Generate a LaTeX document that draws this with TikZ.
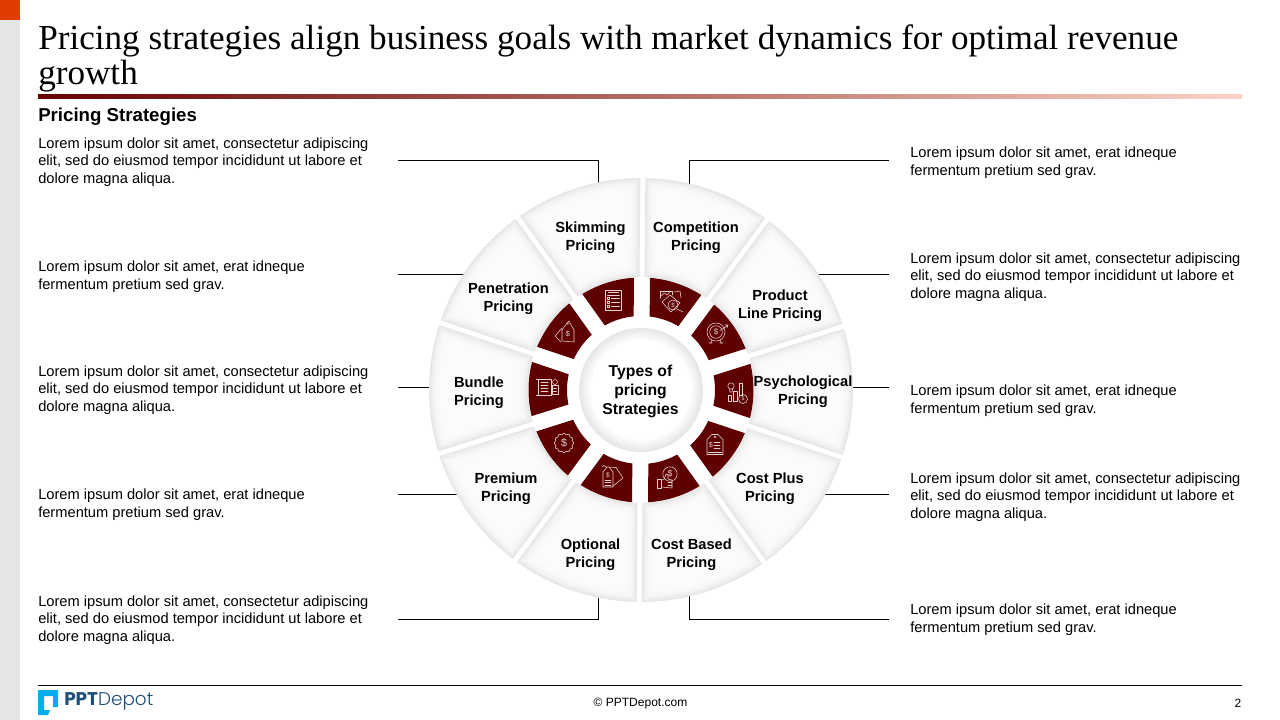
\documentclass[tikz,border=0pt]{standalone}
\usepackage{fontspec}
\setmainfont{Liberation Sans}
\newfontfamily\titlefont{Liberation Serif}
\newfontfamily\logofont{Poppins}
\newfontfamily\logolight{Poppins Light}
\definecolor{deepred}{HTML}{5E0000}
\definecolor{edgegray}{HTML}{E6E6E6}
\definecolor{corefill}{HTML}{FBFBFB}
\definecolor{logoblue}{HTML}{1F4E79}
\definecolor{logocyan}{HTML}{00AEEF}
\definecolor{tabred}{HTML}{E03C00}
\definecolor{ruleA}{HTML}{660202}
\definecolor{ruleB}{HTML}{BF6A5C}
\definecolor{ruleC}{HTML}{FBD3C6}
\definecolor{iconline}{HTML}{E6D2D2}
\tikzset{
  x=0.75pt,y=-0.75pt,
  bodytext/.style={anchor=west,align=left,inner sep=0pt,font=\fontsize{11}{13.3}\selectfont,text=black},
  seglabel/.style={align=center,inner sep=0pt,font=\fontsize{11}{13.5}\bfseries\selectfont,text=black},
  leader/.style={draw=black,line width=0.75pt},
  ic/.style={draw=iconline,line width=0.42pt,line join=round,line cap=round},
  ict/.style={inner sep=0pt,text=iconline},
}
\newcommand{\softseg}[2]{%
  \foreach \k in {0,1,...,11}{%
    \pgfmathsetmacro\mixv{min(100,100*(1-(1-\k/11)^2))}%
    \pgfmathsetmacro\ro{212-\k}\pgfmathsetmacro\ri{113+\k}\pgfmathsetmacro\off{2.5+\k}%
    \pgfmathsetmacro\ao{#1-asin(\off/\ro)}\pgfmathsetmacro\bo{#2+asin(\off/\ro)}%
    \pgfmathsetmacro\ai{#1-asin(\off/\ri)}\pgfmathsetmacro\bi{#2+asin(\off/\ri)}%
    \fill[corefill!\mixv!edgegray] (\ao:\ro) arc[start angle=\ao,end angle=\bo,radius=\ro] -- (\bi:\ri) arc[start angle=\bi,end angle=\ai,radius=\ri] -- cycle;
  }%
}
\newcommand{\redseg}[2]{%
  \pgfmathsetmacro\ao{#1-asin(8/112.5)}\pgfmathsetmacro\bo{#2+asin(8/112.5)}%
  \pgfmathsetmacro\ai{#1-asin(8/74)}\pgfmathsetmacro\bi{#2+asin(8/74)}%
  \fill[deepred] (\ao:112.5) arc[start angle=\ao,end angle=\bo,radius=112.5] -- (\bi:74) arc[start angle=\bi,end angle=\ai,radius=74] -- cycle;
}
\begin{document}
\begin{tikzpicture}
\useasboundingbox (0,0) rectangle (1280,720);
\fill[white] (0,0) rectangle (1280,720);
\fill[black!10] (0,0) rectangle (20,720);
\fill[tabred] (0,0) rectangle (20,20);
% title
\node[anchor=north west,inner sep=0pt,align=left,font=\titlefont\fontsize{26.36}{26.2}\selectfont] (title) at (38,24.5) {Pricing strategies align business goals with market dynamics for optimal revenue\\growth};
\shade[left color=ruleA,middle color=ruleB,right color=ruleC] (38,95) rectangle (1242,99);
\node[anchor=west,inner sep=0pt,font=\fontsize{14}{16}\bfseries\selectfont] (head) at (38,117) {Pricing Strategies};
% texts left
\node[bodytext] (l1) at (38,162) {Lorem ipsum dolor sit amet, consectetur adipiscing\\elit, sed do eiusmod tempor incididunt ut labore et\\dolore magna aliqua.};
\node[bodytext] (l2) at (38,277) {Lorem ipsum dolor sit amet, erat idneque\\fermentum pretium sed grav.};
\node[bodytext] (l3) at (38,390) {Lorem ipsum dolor sit amet, consectetur adipiscing\\elit, sed do eiusmod tempor incididunt ut labore et\\dolore magna aliqua.};
\node[bodytext] (l4) at (38,505) {Lorem ipsum dolor sit amet, erat idneque\\fermentum pretium sed grav.};
\node[bodytext] (l5) at (38,620) {Lorem ipsum dolor sit amet, consectetur adipiscing\\elit, sed do eiusmod tempor incididunt ut labore et\\dolore magna aliqua.};
% texts right
\node[bodytext] (r1) at (910,163) {Lorem ipsum dolor sit amet, erat idneque\\fermentum pretium sed grav.};
\node[bodytext] (r2) at (910,277) {Lorem ipsum dolor sit amet, consectetur adipiscing\\elit, sed do eiusmod tempor incididunt ut labore et\\dolore magna aliqua.};
\node[bodytext] (r3) at (910,401) {Lorem ipsum dolor sit amet, erat idneque\\fermentum pretium sed grav.};
\node[bodytext] (r4) at (910,497) {Lorem ipsum dolor sit amet, consectetur adipiscing\\elit, sed do eiusmod tempor incididunt ut labore et\\dolore magna aliqua.};
\node[bodytext] (r5) at (910,620) {Lorem ipsum dolor sit amet, erat idneque\\fermentum pretium sed grav.};
% leaders
\coordinate (a1) at (398,160.5); \coordinate (b1) at (598,184);
\coordinate (a2) at (398,274.5); \coordinate (b2) at (464,274.5);
\coordinate (a3) at (398,387.5); \coordinate (b3) at (431,387.5);
\coordinate (a4) at (398,494.5); \coordinate (b4) at (459,494.5);
\coordinate (a5) at (398,619.5); \coordinate (b5) at (598,598);
\coordinate (c1) at (889,160.5); \coordinate (d1) at (689,186);
\coordinate (c2) at (889,274.5); \coordinate (d2) at (818,274.5);
\coordinate (c3) at (889,387.5); \coordinate (d3) at (853,387.5);
\coordinate (c4) at (889,494.5); \coordinate (d4) at (824,494.5);
\coordinate (c5) at (889,619.5); \coordinate (d5) at (689,596);
\draw[leader] (a1) -| (b1);
\draw[leader] (a2) -- (b2);
\draw[leader] (a3) -- (b3);
\draw[leader] (a4) -- (b4);
\draw[leader] (a5) -| (b5);
\draw[leader] (c1) -| (d1);
\draw[leader] (c2) -- (d2);
\draw[leader] (c3) -- (d3);
\draw[leader] (c4) -- (d4);
\draw[leader] (c5) -| (d5);
% wheel
\begin{scope}[shift={(641,390)},x=0.75pt,y=0.75pt]
\foreach \a in {89.5,53.5,17.5,-18.5,-54.5,-90.5,-126.5,-162.5,-198.5,-234.5}{%
  \pgfmathsetmacro\b{\a-36}%
  \softseg{\a}{\b}%
  \redseg{\a}{\b}%
}
\foreach \k in {0,1,...,12}{%
  \pgfmathsetmacro\mixv{min(100,\k*8.4)}%
  \pgfmathsetmacro\rr{62-\k}%
  \fill[white!\mixv!edgegray] (0,0) circle[radius=\rr];
}
\end{scope}
% labels
\node[seglabel] (s1) at (590.5,238) {Skimming\\Pricing};
\node[seglabel] (s2) at (696,238) {Competition\\Pricing};
\node[seglabel] (s3) at (508.5,299) {Penetration\\Pricing};
\node[seglabel] (s4) at (780,306) {Product\\Line Pricing};
\node[seglabel] (s5) at (479,393) {Bundle\\Pricing};
\node[seglabel] (s6) at (803,392) {Psychological\\Pricing};
\node[seglabel] (s7) at (506,489) {Premium\\Pricing};
\node[seglabel] (s8) at (770,489) {Cost Plus\\Pricing};
\node[seglabel] (s9) at (590.5,555) {Optional\\Pricing};
\node[seglabel] (s10) at (691.5,555) {Cost Based\\Pricing};
\node[align=center,inner sep=0pt,font=\fontsize{11.8}{14}\bfseries\selectfont] (centre) at (640.5,391.5) {Types of\\pricing\\Strategies};
% price list
\begin{scope}[shift={(613.5,300)},ic]
\draw (-8,-10) rectangle (8,10);
\draw (-5,-7.5) -- (5,-7.5) (-6,-5) -- (6,-5);
\foreach \y in {-3,1,5}{\draw (-6,\y) rectangle (-4,\y+2); \draw (-2,\y+1) -- (6,\y+1);}
\end{scope}
% competition
\begin{scope}[shift={(671,298)},ic]
\draw (-11,0) -- (-11,-7) -- (1,-7) -- (1,-3);
\draw (-10,-2) -- (-7,-5) -- (-4,-3) -- (-1,-6);
\draw (-9,4) -- (-1,-3) -- (9,5) -- (0,14) -- cycle;
\draw (2,7) circle[radius=5];
\node[ict,font=\fontsize{4.5}{5}\selectfont] (t0) at (2,7) {\$};
\draw (6,11) -- (12,14);
\draw (3,-6) -- (9,-7) -- (10,0);
\end{scope}
% product line target
\begin{scope}[shift={(716,332)},ic]
\draw (0,0) circle[radius=9] (0,0) circle[radius=6.3];
\node[ict,font=\fontsize{6}{6}\selectfont] (t1) at (0,0) {\$};
\draw (4,-1.5) -- (11,-6) (9,-7) -- (12,-7) -- (11,-4);
\draw (-4,8) -- (-5.5,11) (4,8) -- (5.5,11) (-7,11) -- (-4,11) (4,11) -- (7,11);
\end{scope}
% psychological
\begin{scope}[shift={(737,391)},ic]
\draw (-9,4) rectangle (-5.5,10) (-3.5,0) rectangle (0,10) (2,-8) rectangle (5.5,4);
\draw (6,8) circle[radius=4.5];
\draw (-6,-5) circle[radius=3.2];
\draw (-7.5,-2) -- (-7,1) -- (-5,1) -- (-4.5,-2);
\node[ict,font=\fontsize{4}{5}\selectfont] (t2) at (6,8) {\$};
\end{scope}
% cost plus tag
\begin{scope}[shift={(715,444.5)},ic]
\draw (-8,-5) -- (-3,-10) -- (3,-10) -- (8,-5) -- (8,10) -- (-8,10) -- cycle;
\draw (0,-7.5) circle[radius=0.8];
\draw (-7,7.5) -- (7,7.5);
\node[ict,font=\fontsize{5.5}{6}\selectfont] (t3) at (-4,1) {\$};
\foreach \y in {-2,1,4}{\draw (-1,\y) -- (5,\y);}
\end{scope}
% cost based thumb+coin
\begin{scope}[shift={(669,477)},ic]
\draw (1,-3) circle[radius=7.2];
\node[ict,font=\fontsize{6.5}{7}\selectfont] (t4) at (1,-3) {\$};
\draw (-12,2) rectangle (-7.5,11);
\draw (-7.5,3) -- (-5,2.5) -- (-3,-3) -- (-1,-2) -- (-1,2) -- (3,3) -- (3,11) -- (-7.5,10);
\draw (-1,5) -- (3,5) (-1,8) -- (3,8);
\end{scope}
% optional tags
\begin{scope}[shift={(612,476)},ic]
\draw (-9,-4) -- (-5,-9) -- (-3,-9) -- (1,-4) -- (1,11) -- (-9,11) -- cycle;
\draw (-2,-9) -- (4,-8.5) -- (11,2) -- (1,10);
\draw (-5,-8) .. controls (-7,-11) and (-9,-11) .. (-10,-9);
\node[ict,font=\fontsize{5}{5}\selectfont] (t5) at (-4,-1) {\$};
\draw (-7,4) -- (-1,4) (-7,6.5) -- (-1,6.5) (-7,9) -- (-1,9);
\end{scope}
% premium badge
\begin{scope}[shift={(564,443)},ic]
\draw plot[smooth cycle,samples=48,domain=0:352.5] (\x:{9.2+0.8*cos(12*\x)});
\node[ict,font=\fontsize{8}{8}\selectfont] (t6) at (0,0) {\$};
\end{scope}
% bundle
\begin{scope}[shift={(547,387)},ic]
\draw (-9,-8) rectangle (4,8);
\draw (-10.5,-8) -- (-7,-8) (-10.5,8) -- (-7,8);
\foreach \y in {-5,-2,1,4}{\draw (-6,\y) -- (1,\y);}
\draw (8,-5) circle[radius=2.5];
\draw (5,7) -- (5,-2) -- (11,-2) -- (11,7) -- cycle;
\draw (6.5,1) -- (9.5,1) (6.5,4) -- (9.5,4);
\end{scope}
% penetration tags
\begin{scope}[shift={(565,332)},ic]
\draw (-3,-2) -- (2,-9) -- (5,-9) -- (9,-2) -- (9,10) -- (-3,9) -- cycle;
\draw (-3,-4) -- (-10,4) -- (-4,10);
\draw (3,-7) .. controls (2,-10) and (3,-11) .. (5,-11);
\node[ict,font=\fontsize{5.5}{6}\selectfont] (t7) at (3,2.5) {\$};
\end{scope}
% footer
\draw[black,line width=0.75pt] (38,685.5) -- (1242,685.5);
\node[inner sep=0pt,font=\fontsize{9}{10}\selectfont] (copy) at (640.5,704) {© PPTDepot.com};
\node[inner sep=0pt,font=\fontsize{9}{10}\selectfont] (page) at (1238,703) {2};
% logo
\fill[logocyan] (38,690) -- (58,690) -- (58,707) -- (53,707) -- (53,696) -- (44,696) -- (44,710) -- (50,710) -- (48,715) -- (38,715) -- cycle;
\node[anchor=west,inner sep=0pt,text=logoblue,font=\fontsize{13.8}{16}\selectfont] (logo) at (64,701) {{\logofont\bfseries PPT}{\logolight Depot}};
\end{tikzpicture}
\end{document}
